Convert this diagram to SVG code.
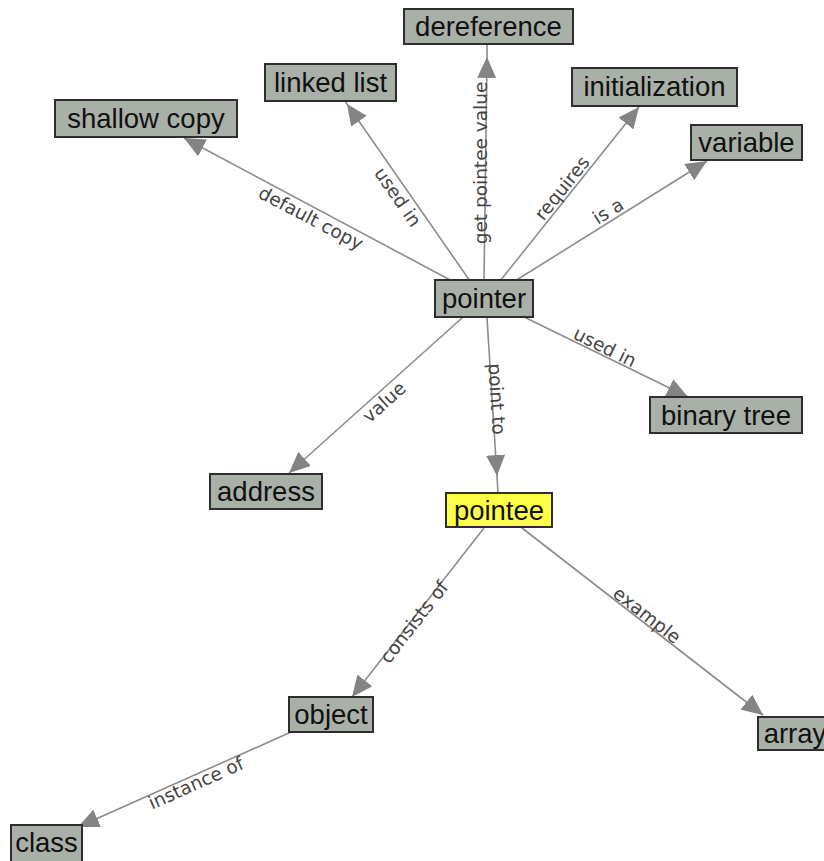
<svg xmlns="http://www.w3.org/2000/svg" width="824" height="861" viewBox="0 0 824 861">
  <style>
    .edge { stroke: #8c8c8c; stroke-width: 1.6; fill: none; }
    .arrow { marker-end: url(#head); }
    .box { fill: #a9b0a8; stroke: #2e2e2e; stroke-width: 2; }
    .box.hl { fill: #ffff4a; }
    .name { font-family: "Liberation Sans", Arial, sans-serif; font-size: 27.5px; fill: #111; text-anchor: middle; }
    .lbl { font-family: "DejaVu Sans", Verdana, sans-serif; font-size: 18.5px; fill: #444; text-anchor: middle; dominant-baseline: central; }
  </style>
  <defs>
    <marker id="head" markerUnits="userSpaceOnUse" markerWidth="21" markerHeight="19" viewBox="0 0 21 19" refX="21" refY="9.5" orient="auto">
      <path d="M0,0 L21,9.5 L0,19 z" fill="#848484"/>
    </marker>
  </defs>

  <g id="connectors">
    <!-- pointer -> shallow copy -->
    <line class="edge arrow" x1="452" y1="281" x2="184" y2="138"/>
    <text class="lbl" transform="translate(311,218) rotate(27.7)">default copy</text>
    <!-- pointer -> linked list -->
    <line class="edge arrow" x1="470" y1="281" x2="347" y2="104"/>
    <line class="edge" x1="347" y1="104" x2="345" y2="101"/>
    <text class="lbl" transform="translate(398,197) rotate(55.4)">used in</text>
    <!-- pointer -> dereference -->
    <line class="edge arrow" x1="484" y1="281" x2="487" y2="57"/>
    <line class="edge" x1="487" y1="57" x2="487" y2="44"/>
    <text class="lbl" transform="translate(480,163) rotate(-90)">get pointee value</text>
    <!-- pointer -> initialization -->
    <line class="edge arrow" x1="500" y1="281" x2="639" y2="107"/>
    <text class="lbl" transform="translate(562,188) rotate(-51.4)">requires</text>
    <!-- pointer -> variable -->
    <line class="edge arrow" x1="515" y1="281" x2="707" y2="161"/>
    <text class="lbl" transform="translate(608,211) rotate(-31.8)">is a</text>
    <!-- pointer -> binary tree -->
    <line class="edge arrow" x1="522" y1="316" x2="688" y2="397"/>
    <text class="lbl" transform="translate(605,347) rotate(26.1)">used in</text>
    <!-- pointer -> address -->
    <line class="edge arrow" x1="462" y1="318" x2="289" y2="473"/>
    <text class="lbl" transform="translate(384,402) rotate(-41.9)">value</text>
    <!-- pointer -> pointee -->
    <line class="edge arrow" x1="487" y1="318" x2="497" y2="476"/>
    <line class="edge" x1="497" y1="476" x2="498" y2="493"/>
    <text class="lbl" transform="translate(497,399) rotate(86.3)">point to</text>
    <!-- pointee -> object -->
    <line class="edge arrow" x1="484" y1="528" x2="352" y2="697"/>
    <text class="lbl" transform="translate(414,622) rotate(-52)">consists of</text>
    <!-- pointee -> array -->
    <line class="edge arrow" x1="522" y1="528" x2="763" y2="715"/>
    <text class="lbl" transform="translate(647,615) rotate(37.9)">example</text>
    <!-- object -> class -->
    <line class="edge arrow" x1="291" y1="732" x2="78" y2="827"/>
    <text class="lbl" transform="translate(196,783) rotate(-24.1)">instance of</text>
  </g>

  <g id="dereference"><rect class="box" x="404" y="9" width="169" height="35"/><text class="name" x="488.5" y="36">dereference</text></g>
  <g id="linked-list"><rect class="box" x="265" y="64" width="131" height="37"/><text class="name" x="330.5" y="92">linked list</text></g>
  <g id="initialization"><rect class="box" x="572" y="68" width="165" height="38"/><text class="name" x="654.5" y="96">initialization</text></g>
  <g id="shallow-copy"><rect class="box" x="55" y="100" width="182" height="37"/><text class="name" x="146" y="128">shallow copy</text></g>
  <g id="variable"><rect class="box" x="691" y="125" width="111" height="35"/><text class="name" x="746.5" y="152">variable</text></g>
  <g id="pointer"><rect class="box" x="435" y="280" width="98" height="37"/><text class="name" x="484" y="308">pointer</text></g>
  <g id="binary-tree"><rect class="box" x="650" y="397" width="152" height="36"/><text class="name" x="726" y="425">binary tree</text></g>
  <g id="address"><rect class="box" x="210" y="474" width="112" height="35"/><text class="name" x="266" y="501">address</text></g>
  <g id="pointee"><rect class="box hl" x="446" y="493" width="106" height="34"/><text class="name" x="499" y="520">pointee</text></g>
  <g id="object"><rect class="box" x="289" y="697" width="84" height="35"/><text class="name" x="331" y="724">object</text></g>
  <g id="array"><rect class="box" x="758" y="717" width="74" height="33"/><text class="name" x="795" y="743">array</text></g>
  <g id="class"><rect class="box" x="11" y="825" width="71" height="37"/><text class="name" x="46.5" y="852">class</text></g>
</svg>
